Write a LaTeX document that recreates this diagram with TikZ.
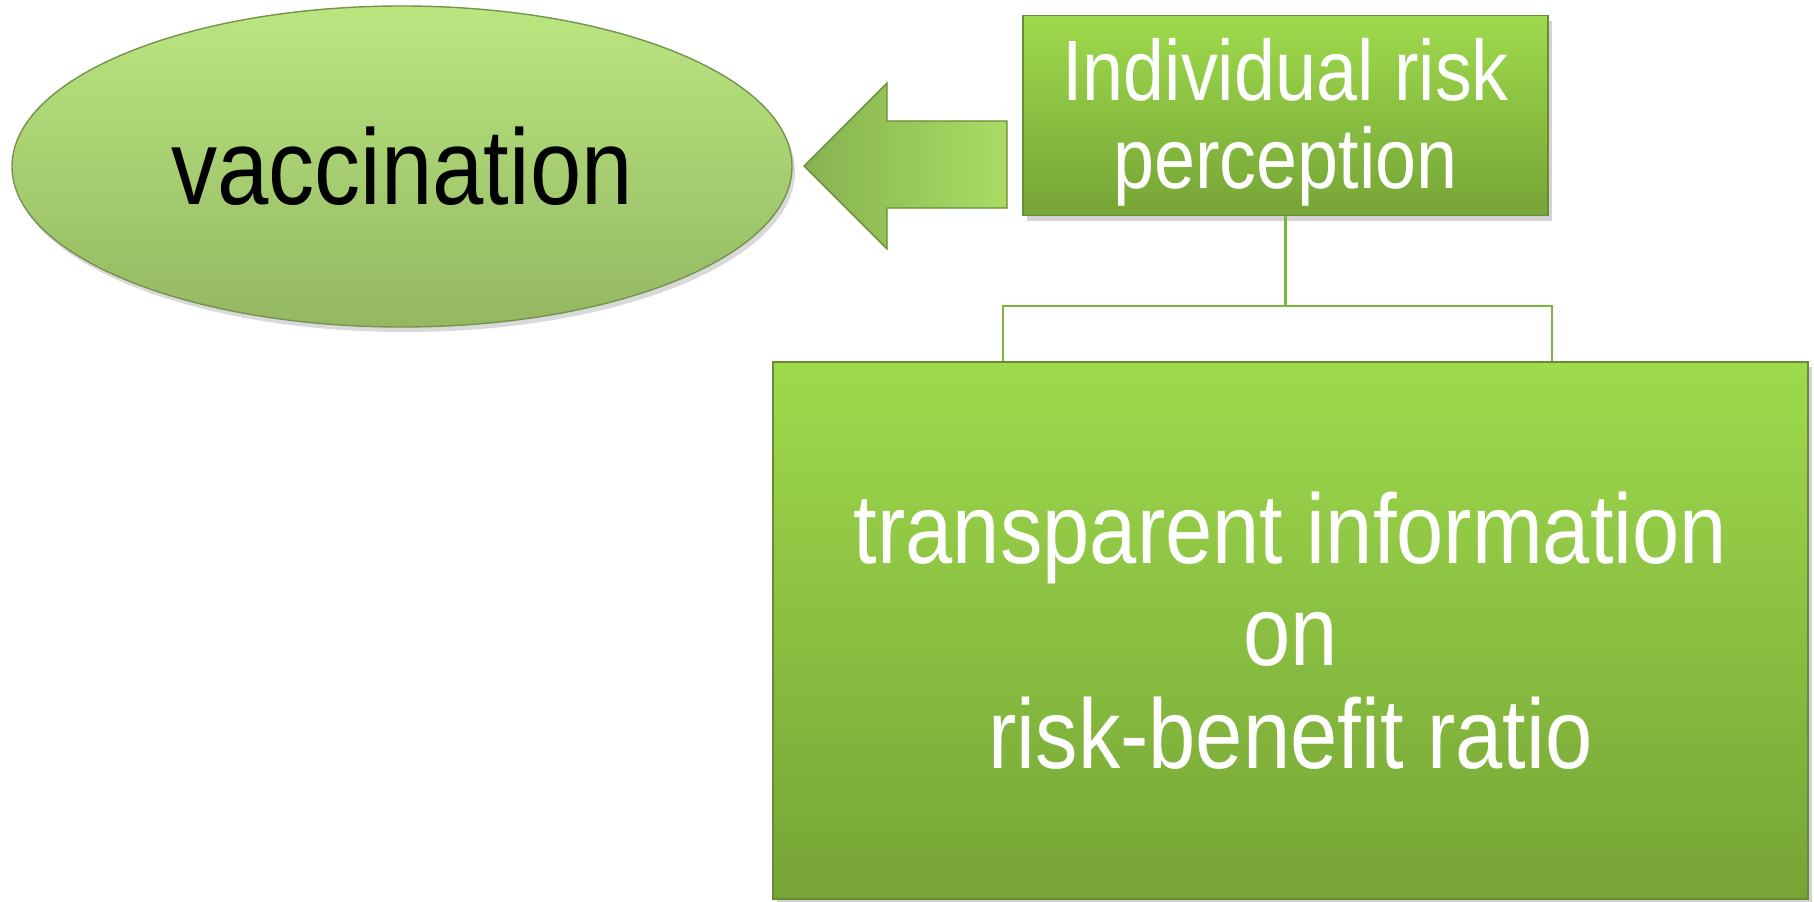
\documentclass[tikz,border=0pt]{standalone}
\usepackage{fontspec}
\setmainfont{Liberation Sans}[FakeStretch=0.86]
\usepackage{tikz}
\usetikzlibrary{shapes.geometric,shadows}
\definecolor{leaftop}{RGB}{158,218,76}
\definecolor{leafbottom}{RGB}{118,164,54}
\definecolor{leafedge}{RGB}{104,140,52}
\definecolor{ovaltop}{RGB}{186,230,128}
\definecolor{ovalbottom}{RGB}{148,184,98}
\definecolor{arrowleft}{RGB}{134,178,80}
\definecolor{arrowright}{RGB}{170,220,100}
\definecolor{linkgreen}{RGB}{122,182,58}
\tikzstyle{greenbox}=[rectangle, draw=leafedge, top color=leaftop, bottom color=leafbottom, text=white, align=center, drop shadow={shadow xshift=0.04cm, shadow yshift=-0.05cm, opacity=0.35}]
\tikzstyle{greenoval}=[ellipse, draw=ovalbottom!80!black, top color=ovaltop, bottom color=ovalbottom, drop shadow={shadow xshift=0.03cm, shadow yshift=-0.05cm, opacity=0.3}]
\tikzstyle{blockarrow}=[draw=leafedge, left color=arrowleft, right color=arrowright, line join=miter]
\tikzstyle{link}=[draw=linkgreen, line width=0.8pt]

\begin{document}
\begin{tikzpicture}
	\useasboundingbox (0,0) rectangle (18.14,-9.01);
	\begin{scope}
		\node (vacc) at (4.02,-1.665)[greenoval, minimum width=7.8cm, minimum height=3.21cm, font=\fontsize{30.5}{34}\selectfont] {vaccination};
		\node (perc) at (12.855,-1.1575)[greenbox, inner ysep=0pt, minimum width=5.25cm, minimum height=2cm, font=\fontsize{24.4}{25}\selectfont] {\rule{0pt}{0.745cm}Individual risk\\perception};
		\node (info) at (12.905,-6.305)[greenbox, minimum width=10.35cm, minimum height=5.37cm, font=\fontsize{28.1}{29.2}\selectfont] {transparent information\\on\\risk-benefit ratio};
		\coordinate (forkl) at (10.03,-3.06);
		\coordinate (forkr) at (15.52,-3.06);
	\end{scope}
	\begin{scope}
		% block arrow from the risk box to the oval
		\path [blockarrow] (8.04,-1.66) -- (8.87,-0.83) -- (8.87,-1.21) -- (10.07,-1.21)
			-- (10.07,-2.08) -- (8.87,-2.08) -- (8.87,-2.49) -- cycle;
		\path [link] (perc.south) |- (forkl) -- (forkl |- info.north);
		\path [link] (perc.south) |- (forkr) -- (forkr |- info.north);
	\end{scope}
\end{tikzpicture}
\end{document}
